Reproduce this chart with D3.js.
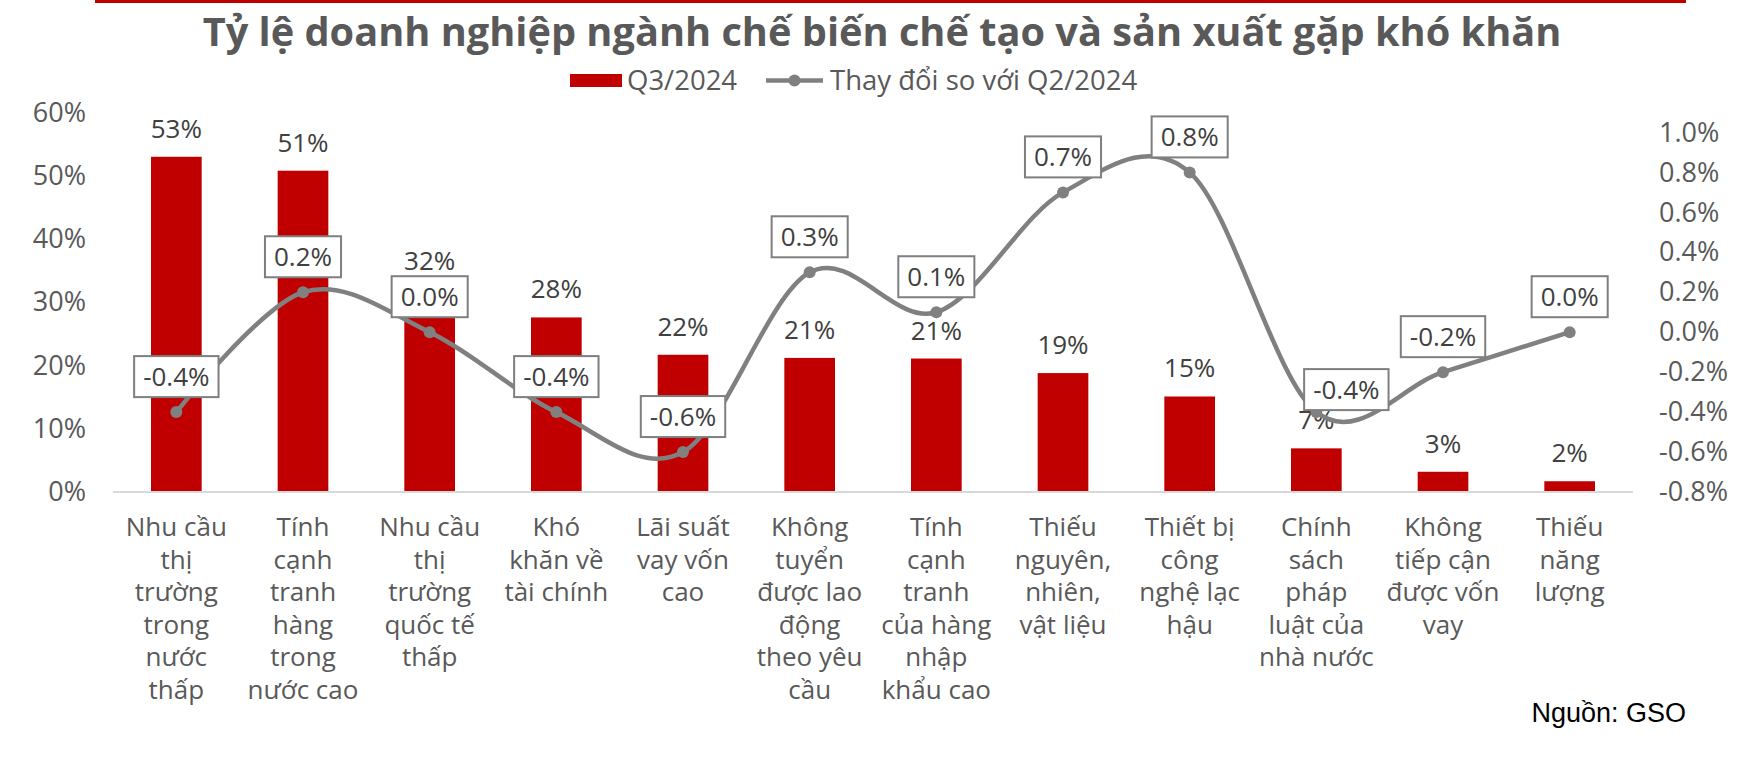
<!DOCTYPE html>
<html>
<head>
<meta charset="utf-8">
<script src="https://cdn.jsdelivr.net/npm/d3@7"></script>
<style>
  html, body { margin: 0; padding: 0; background: #ffffff; }
  svg { display: block; }
</style>
</head>
<body>
<div id="chart"></div>
<script>
// Data
const categories = [
    "Nhu cầu\nthị\ntrường\ntrong\nnước\nthấp",
    "Tính\ncạnh\ntranh\nhàng\ntrong\nnước cao",
    "Nhu cầu\nthị\ntrường\nquốc tế\nthấp",
    "Khó\nkhăn về\ntài chính",
    "Lãi suất\nvay vốn\ncao",
    "Không\ntuyển\nđược lao\nđộng\ntheo yêu\ncầu",
    "Tính\ncạnh\ntranh\ncủa hàng\nnhập\nkhẩu cao",
    "Thiếu\nnguyên,\nnhiên,\nvật liệu",
    "Thiết bị\ncông\nnghệ lạc\nhậu",
    "Chính\nsách\npháp\nluật của\nnhà nước",
    "Không\ntiếp cận\nđược vốn\nvay",
    "Thiếu\nnăng\nlượng"
];
const q3Values = [53.0, 50.8, 32.1, 27.6, 21.7, 21.2, 21.1, 18.8, 15.1, 6.9, 3.2, 1.7];
const changeValues = [-0.4, 0.2, 0.0, -0.4, -0.6, 0.3, 0.1, 0.7, 0.8, -0.4, -0.2, 0.0];
const leftTicks = [0, 10, 20, 30, 40, 50, 60];
const rightTicks = [-0.8, -0.6, -0.4, -0.2, 0.0, 0.2, 0.4, 0.6, 0.8, 1.0];

const titleText = "Tỷ lệ doanh nghiệp ngành chế biến chế tạo và sản xuất gặp khó khăn";
const legendBar = "Q3/2024";
const legendLine = "Thay đổi so với Q2/2024";
const sourceText = "Nguồn: GSO";

const width = 1745, height = 761;
const plot = { left: 113, right: 1633, top: 112.5, bottom: 492 };
const red = "#c00000", grey = "#808080", textCol = "#595959";
const font = "'Open Sans', 'Noto Sans', sans-serif";

// one decimal, plain hyphen for negatives (like Excel)
const pct1 = d => d3.format(".1f")(d).replace("\u2212", "-") + "%";

const svg = d3.select("#chart")
    .append("svg")
    .attr("width", width)
    .attr("height", height)
    .style("font-family", font);

svg.append("rect").attr("width", width).attr("height", height).attr("fill", "#fff");

// top red rule
svg.append("rect")
    .attr("x", 95).attr("y", 0)
    .attr("width", 1591).attr("height", 3)
    .attr("fill", red);

// Title, fitted to the reference width
const title = svg.append("text")
    .attr("x", 882)
    .attr("y", 46)
    .attr("text-anchor", "middle")
    .style("font-size", "35px")
    .style("font-weight", "bold")
    .style("fill", textCol)
    .text(titleText);
const tw = title.node().getComputedTextLength();
title.style("font-size", (35 * 1359 / tw).toFixed(2) + "px");

// Scales
const x = d3.scaleBand()
    .domain(d3.range(categories.length))
    .range([plot.left, plot.right])
    .paddingInner(0.6)
    .paddingOuter(0.3);

const yLeft = d3.scaleLinear()
    .domain([0, 60])
    .range([plot.bottom, plot.top]);

const yRight = d3.scaleLinear()
    .domain([-0.8, 1.1])
    .range([plot.bottom, plot.top]);

// Left axis labels
const leftAxis = svg.append("g")
    .attr("transform", `translate(${plot.left - 27},0)`)
    .call(d3.axisLeft(yLeft).tickValues(leftTicks).tickSize(0).tickPadding(0).tickFormat(d => d + "%"));
leftAxis.select(".domain").remove();
leftAxis.selectAll("text")
    .style("font-family", font)
    .style("font-size", "27px")
    .style("fill", textCol);

// Right axis labels
const rightAxis = svg.append("g")
    .attr("transform", `translate(${plot.right + 26},0)`)
    .call(d3.axisRight(yRight).tickValues(rightTicks).tickSize(0).tickPadding(0).tickFormat(pct1));
rightAxis.select(".domain").remove();
rightAxis.selectAll("text")
    .style("font-family", font)
    .style("font-size", "27px")
    .style("fill", textCol);

// Bars
svg.append("g")
    .selectAll("rect")
    .data(q3Values)
    .enter()
    .append("rect")
    .attr("x", (d, i) => x(i))
    .attr("y", d => yLeft(d))
    .attr("width", x.bandwidth())
    .attr("height", d => yLeft(0) - yLeft(d))
    .attr("fill", red);

// Baseline
svg.append("line")
    .attr("x1", plot.left).attr("x2", plot.right)
    .attr("y1", plot.bottom).attr("y2", plot.bottom)
    .attr("stroke", "#d9d9d9")
    .attr("stroke-width", 2);

// Bar value labels
svg.append("g")
    .selectAll("text")
    .data(q3Values)
    .enter()
    .append("text")
    .attr("x", (d, i) => x(i) + x.bandwidth() / 2)
    .attr("y", d => yLeft(d) - 19)
    .attr("text-anchor", "middle")
    .style("font-size", "26px")
    .style("fill", "#404040")
    .text(d => Math.round(d) + "%");

// Smoothed line on right axis
const cx = i => x(i) + x.bandwidth() / 2;
const line = d3.line()
    .x((d, i) => cx(i))
    .y(d => yRight(d))
    .curve(d3.curveCatmullRom.alpha(0));

svg.append("path")
    .datum(changeValues)
    .attr("d", line)
    .attr("fill", "none")
    .attr("stroke", grey)
    .attr("stroke-width", 4.5)
    .attr("stroke-linecap", "round");

svg.append("g")
    .selectAll("circle")
    .data(changeValues)
    .enter()
    .append("circle")
    .attr("cx", (d, i) => cx(i))
    .attr("cy", d => yRight(d))
    .attr("r", 6)
    .attr("fill", grey);

// Boxed labels for the line (one was nudged by hand in the original)
const labelNudge = { 9: [30, 13] };
const boxes = svg.append("g")
    .selectAll("g")
    .data(changeValues)
    .enter()
    .append("g")
    .attr("transform", (d, i) => {
        const n = labelNudge[i] || [0, 0];
        return `translate(${cx(i) + n[0]},${yRight(d) - 35.5 + n[1]})`;
    });
boxes.append("rect").attr("class", "bx");
boxes.append("text")
    .attr("text-anchor", "middle")
    .attr("y", 9.5)
    .style("font-size", "26px")
    .style("fill", "#404040")
    .text(pct1);
boxes.each(function () {
    const g = d3.select(this);
    const w = g.select("text").node().getComputedTextLength() + 18;
    g.select("rect")
        .attr("x", -w / 2).attr("y", -20.5)
        .attr("width", w).attr("height", 41)
        .attr("fill", "#fff")
        .attr("stroke", "#7f7f7f")
        .attr("stroke-width", 2);
});

// Category labels
const xl = svg.append("g")
    .selectAll("text")
    .data(categories)
    .enter()
    .append("text")
    .attr("text-anchor", "middle")
    .style("font-size", "26px")
    .style("fill", textCol);
xl.each(function (d, i) {
    const t = d3.select(this);
    d.split("\n").forEach((ln, k) => {
        t.append("tspan")
            .attr("x", cx(i))
            .attr("y", 536 + k * 32.5)
            .text(ln);
    });
});

// Legend
const lg = svg.append("g");
lg.append("rect")
    .attr("x", 570).attr("y", 74)
    .attr("width", 52).attr("height", 13)
    .attr("fill", red);
lg.append("text")
    .attr("x", 627).attr("y", 90)
    .style("font-size", "27.5px")
    .style("fill", textCol)
    .text(legendBar);
lg.append("line")
    .attr("x1", 766).attr("x2", 823)
    .attr("y1", 80.5).attr("y2", 80.5)
    .attr("stroke", grey).attr("stroke-width", 4.5);
lg.append("circle")
    .attr("cx", 794.5).attr("cy", 80.5).attr("r", 6)
    .attr("fill", grey);
lg.append("text")
    .attr("x", 830).attr("y", 90)
    .style("font-size", "27.5px")
    .style("fill", textCol)
    .text(legendLine);

// Source
svg.append("text")
    .attr("x", 1686).attr("y", 722)
    .attr("text-anchor", "end")
    .style("font-family", "'Liberation Sans', Arial, sans-serif")
    .style("font-size", "27px")
    .style("fill", "#000")
    .text(sourceText);
</script>
</body>
</html>
